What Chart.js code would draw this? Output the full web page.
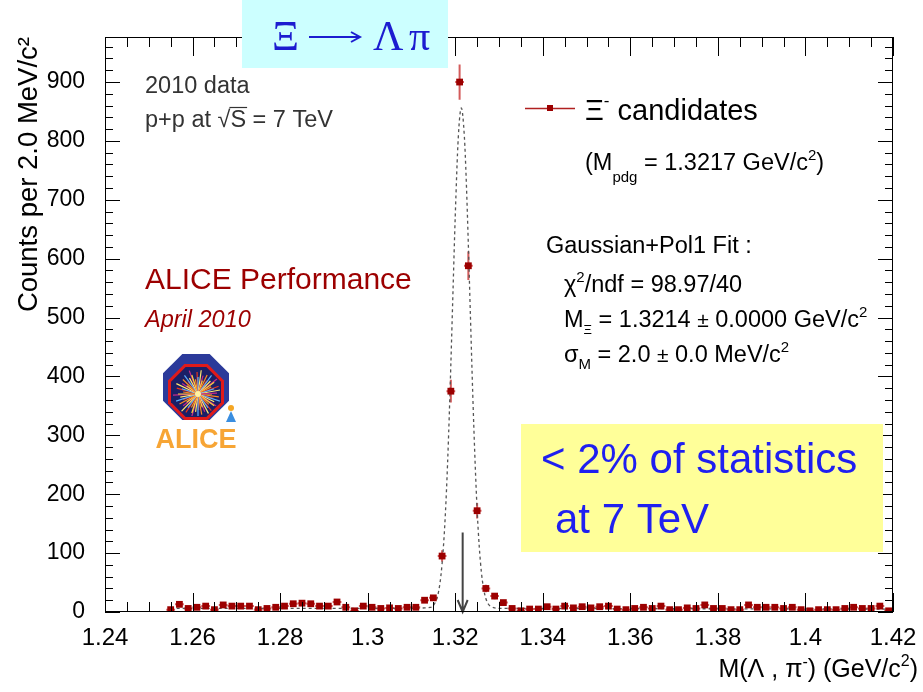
<!DOCTYPE html>
<html>
<head>
<meta charset="utf-8">
<script src="https://cdn.jsdelivr.net/npm/chart.js@4.4.1/dist/chart.umd.min.js"></script>
<style>
  html, body { margin: 0; padding: 0; background: #fff; }
</style>
</head>
<body>
<canvas id="c" width="923" height="692"></canvas>
<script>
// Lambda-pi invariant mass, 2 MeV bins starting at 1.254 GeV
const binStart = 1.254
const binWidth = 0.002
const counts = [
  4, 13, 6, 8, 10, 4, 12, 10, 10, 10,
  4, 6, 8, 10, 14, 15, 14, 10, 10, 17,
  8, 2, 10, 8, 6, 7, 6, 8, 8, 20,
  24, 95, 375, 900, 588, 172, 40, 27, 16, 6,
  2, 5, 5, 9, 5, 10, 7, 9, 7, 9,
  10, 5, 4, 6, 8, 6, 10, 4, 4, 7,
  6, 12, 6, 6, 4, 4, 12, 8, 8, 8,
  6, 8, 4, 2, 4, 4, 4, 6, 8, 6,
  6, 10, 2
]

// Gaussian + pol1 fit curve
const fitMass = [
  1.255, 1.280, 1.300, 1.310, 1.312, 1.313, 1.314, 1.315, 1.316, 1.3165,
  1.317, 1.3175, 1.318, 1.3185, 1.319, 1.3195, 1.320, 1.3207, 1.3214, 1.3221,
  1.3225, 1.323, 1.3235, 1.324, 1.3245, 1.325, 1.3255, 1.326, 1.3265, 1.327,
  1.3275, 1.328, 1.329, 1.331, 1.340, 1.380, 1.419
]
const fitCounts = [
  6, 6, 6, 6, 6.5, 7, 7.5, 11, 28, 48,
  82, 133, 206, 303, 420, 547, 671, 806, 856, 806,
  737, 623, 496, 371, 262, 174, 110, 66, 39, 23,
  14, 10, 7, 6, 6, 5.5, 5
]

const pdgMass = 1.3217
const arrowTop = 135

const xTicks = [1.24, 1.26, 1.28, 1.30, 1.32, 1.34, 1.36, 1.38, 1.40, 1.42]
const xTickLabels = ['1.24', '1.26', '1.28', '1.3', '1.32', '1.34', '1.36', '1.38', '1.4', '1.42']
const yTicks = [0, 100, 200, 300, 400, 500, 600, 700, 800, 900]
const yMax = 976.5

const SANS = "'Liberation Sans', Arial, Helvetica, sans-serif"
const SERIF = "'Liberation Serif', 'Times New Roman', serif"
const DARKRED = '#9c0000'

const binCenter = i => binStart + binWidth * (i + 0.5)

// draw text made of runs: [text, size, dy, style]
function runs(ctx, x, y, parts, color) {
  ctx.fillStyle = color
  ctx.textBaseline = 'alphabetic'
  ctx.textAlign = 'left'
  let cx = x
  for (const [t, size, dy, style] of parts) {
    ctx.font = (style || '') + ' ' + size + 'px ' + SANS
    ctx.fillText(t, cx, y + (dy || 0))
    cx += ctx.measureText(t).width
  }
  return cx
}

function runsWidth(ctx, parts) {
  let w = 0
  for (const [t, size, , style] of parts) {
    ctx.font = (style || '') + ' ' + size + 'px ' + SANS
    w += ctx.measureText(t).width
  }
  return w
}

function octagon(ctx, cx, cy, r) {
  const R = r / Math.cos(Math.PI / 8)
  ctx.beginPath()
  for (let k = 0; k < 8; k++) {
    const a = Math.PI / 8 + k * Math.PI / 4
    const px = cx + R * Math.cos(a)
    const py = cy + R * Math.sin(a)
    if (k === 0) ctx.moveTo(px, py); else ctx.lineTo(px, py)
  }
  ctx.closePath()
}

function drawLogo(ctx) {
  const cx = 196, cy = 392
  ctx.save()
  octagon(ctx, cx, cy - 5, 33)
  ctx.fillStyle = '#2b3a9a'
  ctx.fill()
  octagon(ctx, cx, cy, 28)
  ctx.fillStyle = '#e01a1a'
  ctx.fill()
  octagon(ctx, cx, cy, 25)
  ctx.fillStyle = '#1b1f66'
  ctx.fill()
  ctx.save()
  octagon(ctx, cx, cy, 24)
  ctx.clip()
  const rays = ['#ffd23a', '#ff8a1f', '#e8361c', '#5ab0ff', '#ffe870', '#c62a8a']
  ctx.lineWidth = 1.2
  for (let k = 0; k < 60; k++) {
    const a = k * Math.PI * 2 / 60 + (k % 3) * 0.03
    const r = 14 + (k * 7) % 12
    ctx.strokeStyle = rays[k % rays.length]
    ctx.beginPath()
    ctx.moveTo(cx + 2, cy + 2)
    ctx.lineTo(cx + 2 + r * Math.cos(a), cy + 2 + r * Math.sin(a))
    ctx.stroke()
  }
  ctx.fillStyle = '#fff3a0'
  ctx.beginPath()
  ctx.arc(cx + 2, cy + 2, 3, 0, Math.PI * 2)
  ctx.fill()
  ctx.restore()
  // little figure beside the octagon
  ctx.fillStyle = '#f5a623'
  ctx.beginPath()
  ctx.arc(231, 408, 3, 0, Math.PI * 2)
  ctx.fill()
  ctx.fillStyle = '#3a8ee0'
  ctx.beginPath()
  ctx.moveTo(231, 411); ctx.lineTo(236, 422); ctx.lineTo(226, 422); ctx.closePath()
  ctx.fill()
  ctx.fillStyle = '#f7a535'
  ctx.font = 'bold 27px ' + SANS
  ctx.textAlign = 'center'
  ctx.textBaseline = 'alphabetic'
  ctx.fillText('ALICE', 196, 448)
  ctx.restore()
}

const overlay = {
  id: 'overlay',
  beforeDatasetsDraw(chart) {
    const { ctx, scales: { x, y } } = chart
    ctx.save()
    ctx.strokeStyle = 'rgba(200, 50, 50, 0.8)'
    ctx.lineWidth = 2
    counts.forEach((n, i) => {
      const m = binCenter(i)
      const px = x.getPixelForValue(m)
      const py = y.getPixelForValue(n)
      const e = Math.sqrt(n)
      ctx.beginPath()
      ctx.moveTo(x.getPixelForValue(m - binWidth / 2), py)
      ctx.lineTo(x.getPixelForValue(m + binWidth / 2), py)
      ctx.moveTo(px, y.getPixelForValue(n + e))
      ctx.lineTo(px, y.getPixelForValue(Math.max(0, n - e)))
      ctx.stroke()
    })
    ctx.restore()
  },
  afterDatasetsDraw(chart) {
    const { ctx, scales: { x, y } } = chart
    // arrow at the PDG mass
    const ax = x.getPixelForValue(pdgMass)
    const top = y.getPixelForValue(arrowTop)
    const bot = y.getPixelForValue(0)
    ctx.save()
    ctx.strokeStyle = '#444'
    ctx.lineWidth = 2
    ctx.beginPath()
    ctx.moveTo(ax, top)
    ctx.lineTo(ax, bot)
    ctx.moveTo(ax - 5, bot - 12)
    ctx.lineTo(ax, bot)
    ctx.lineTo(ax + 5, bot - 12)
    ctx.stroke()
    ctx.restore()
  },
  afterDraw(chart) {
    const { ctx, chartArea: a, scales: { x, y } } = chart
    ctx.save()
    // frame
    ctx.strokeStyle = '#000'
    ctx.lineWidth = 1
    ctx.strokeRect(a.left + 0.5, a.top + 0.5, a.right - a.left - 1, a.bottom - a.top - 1)

    // y ticks, left and right, pointing inward
    ctx.beginPath()
    for (let v = 0; v <= yMax; v += 20) {
      const py = Math.round(y.getPixelForValue(v)) + 0.5
      const len = v % 100 === 0 ? 15 : 8
      ctx.moveTo(a.left, py); ctx.lineTo(a.left + len, py)
      ctx.moveTo(a.right, py); ctx.lineTo(a.right - len, py)
    }
    // x ticks, bottom and top
    for (let k = 0; k <= 36; k++) {
      const v = 1.24 + k * 0.005
      const px = Math.round(x.getPixelForValue(v)) + 0.5
      const len = k % 4 === 0 ? 19 : 10
      ctx.moveTo(px, a.bottom); ctx.lineTo(px, a.bottom - len)
      ctx.moveTo(px, a.top); ctx.lineTo(px, a.top + len)
    }
    ctx.stroke()

    // x axis title, right aligned
    const xTitle = [['M(Λ , π', 25], ['-', 16, -10], [') (GeV/c', 25], ['2', 16, -11], [')', 25]]
    runs(ctx, 918 - runsWidth(ctx, xTitle), 677, xTitle, '#000')

    // run info
    runs(ctx, 145, 93, [['2010 data', 23.5]], '#333')
    const sx = runs(ctx, 145, 127, [['p+p at ', 23.5]], '#333')
    ctx.font = '23.5px ' + SANS
    const sw = ctx.measureText('√').width
    ctx.fillText('√', sx, 127)
    ctx.fillText('S', sx + sw, 127)
    const Sw = ctx.measureText('S').width
    ctx.strokeStyle = '#333'
    ctx.lineWidth = 1.2
    ctx.beginPath()
    ctx.moveTo(sx + sw - 1, 107.5)
    ctx.lineTo(sx + sw + Sw + 1, 107.5)
    ctx.stroke()
    ctx.fillText(' = 7 TeV', sx + sw + Sw, 127)

    runs(ctx, 145, 289, [['ALICE Performance', 30]], DARKRED)
    runs(ctx, 145, 327, [['April 2010', 23.5, 0, 'italic']], DARKRED)

    drawLogo(ctx)

    // legend entry
    ctx.strokeStyle = '#b02020'
    ctx.lineWidth = 1.5
    ctx.beginPath()
    ctx.moveTo(525, 108.5); ctx.lineTo(575, 108.5)
    ctx.stroke()
    ctx.fillStyle = DARKRED
    ctx.fillRect(547, 105, 6, 6)
    runs(ctx, 585, 120, [['Ξ', 29], ['-', 17, -14], [' candidates', 29]], '#000')
    runs(ctx, 585, 170, [['(M', 23.5], ['pdg', 15, 12], [' = 1.3217 GeV/c', 23.5], ['2', 15, -10], [')', 23.5]], '#000')

    // fit summary
    runs(ctx, 546, 253, [['Gaussian+Pol1 Fit :', 23.5]], '#000')
    runs(ctx, 564, 292, [['χ', 23.5], ['2', 15, -10], ['/ndf = 98.97/40', 23.5]], '#000')
    runs(ctx, 564, 327, [['M', 23.5], ['Ξ', 13, 7], [' = 1.3214 ', 23.5], ['±', 21], [' 0.0000 GeV/c', 23.5], ['2', 15, -10]], '#000')
    runs(ctx, 564, 362, [['σ', 23.5], ['M', 15, 7], [' = 2.0 ', 23.5], ['±', 21], [' 0.0 MeV/c', 23.5], ['2', 15, -10]], '#000')

    // statistics note
    ctx.fillStyle = '#ffff99'
    ctx.fillRect(521, 424, 362, 128)
    runs(ctx, 541, 473, [['< 2% of statistics', 42]], '#1f1ff0')
    runs(ctx, 555, 533, [['at 7 TeV', 42]], '#1f1ff0')

    // decay channel title
    ctx.fillStyle = '#ccffff'
    ctx.fillRect(242, 0, 206, 68)
    ctx.fillStyle = '#1c1cd0'
    ctx.strokeStyle = '#1c1cd0'
    ctx.font = '42px ' + SERIF
    ctx.textAlign = 'left'
    ctx.textBaseline = 'alphabetic'
    ctx.fillText('Ξ', 272, 50)
    ctx.fillText('Λ', 373, 50)
    ctx.fillText('π', 409, 50)
    ctx.lineWidth = 2
    ctx.beginPath()
    ctx.moveTo(309, 37); ctx.lineTo(359, 37)
    ctx.moveTo(351, 32); ctx.lineTo(360, 37); ctx.lineTo(351, 42)
    ctx.stroke()
    ctx.restore()
  }
}

new Chart(document.getElementById('c'), {
  type: 'scatter',
  data: {
    datasets: [
      {
        label: 'Ξ- candidates',
        data: counts.map((n, i) => ({ x: binCenter(i), y: n })),
        pointStyle: 'rect',
        pointRadius: 4.8,
        backgroundColor: DARKRED,
        borderColor: DARKRED,
        borderWidth: 0,
        order: 1
      },
      {
        label: 'fit',
        data: fitMass.map((m, i) => ({ x: m, y: fitCounts[i] })),
        showLine: true,
        pointRadius: 0,
        borderColor: '#555',
        borderWidth: 1.3,
        borderDash: [3, 3],
        cubicInterpolationMode: 'monotone',
        order: 2
      }
    ]
  },
  options: {
    responsive: false,
    animation: false,
    layout: { padding: { top: 37, right: 30, left: 0, bottom: 0 } },
    plugins: { legend: { display: false }, tooltip: { enabled: false } },
    scales: {
      x: {
        type: 'linear',
        min: 1.24,
        max: 1.42,
        grid: { display: false },
        border: { display: false },
        afterBuildTicks: s => { s.ticks = xTicks.map(v => ({ value: v })) },
        afterFit: s => { s.height = 80 },
        ticks: {
          autoSkip: false,
          maxRotation: 0,
          padding: 4,
          color: '#000',
          font: { family: SANS, size: 24 },
          callback: (v, i) => xTickLabels[i]
        }
      },
      y: {
        min: 0,
        max: yMax,
        grid: { display: false },
        border: { display: false },
        afterBuildTicks: s => { s.ticks = yTicks.map(v => ({ value: v })) },
        afterFit: s => { s.width = 105 },
        ticks: {
          padding: 12,
          color: '#000',
          font: { family: SANS, size: 23 },
          callback: v => String(v)
        },
        title: {
          display: true,
          text: 'Counts per 2.0 MeV/c²',
          align: 'end',
          color: '#000',
          font: { family: SANS, size: 27.5 },
          padding: { top: 13, bottom: 0 }
        }
      }
    }
  },
  plugins: [overlay]
})
</script>
</body>
</html>
